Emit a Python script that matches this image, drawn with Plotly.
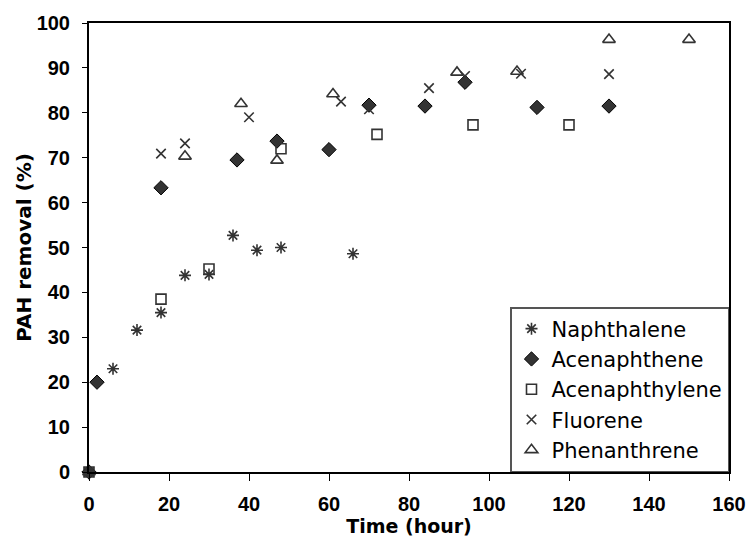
import plotly.graph_objects as go

# ---- data ----
naph_t = [0, 6, 12, 18, 24, 30, 36, 42, 48, 66]
naph = [0, 23.0, 31.6, 35.5, 43.8, 44.0, 52.7, 49.4, 50.0, 48.6]

acene_t = [0, 2, 18, 37, 47, 60, 70, 84, 94, 112, 130]
acene = [0, 20.0, 63.3, 69.5, 73.7, 71.8, 81.7, 81.5, 86.8, 81.2, 81.5]

acyl_t = [0, 18, 30, 48, 72, 96, 120]
acyl = [0, 38.5, 45.2, 72.0, 75.2, 77.3, 77.3]

fluor_t = [0, 18, 24, 40, 63, 70, 85, 94, 108, 130]
fluor = [0, 70.9, 73.2, 79.0, 82.5, 80.8, 85.5, 88.2, 88.7, 88.6]

phen_t = [0, 24, 38, 47, 61, 92, 107, 130, 150]
phen = [0, 70.3, 82.0, 69.4, 84.2, 89.0, 89.2, 96.3, 96.3]

x_ticks = [0, 20, 40, 60, 80, 100, 120, 140, 160]
y_ticks = [0, 10, 20, 30, 40, 50, 60, 70, 80, 90, 100]

DARK = "#333333"
FONT = "Liberation Sans, Arial, sans-serif"
WIDE = "DejaVu Sans, Verdana, sans-serif"

fig = go.Figure()
fig.add_trace(go.Scatter(x=naph_t, y=naph, mode="markers", name="Naphthalene",
                         marker=dict(symbol="asterisk-open", size=10, color=DARK,
                                     line=dict(color=DARK, width=1.6)),
                         cliponaxis=False))
fig.add_trace(go.Scatter(x=acene_t, y=acene, mode="markers", name="Acenaphthene",
                         marker=dict(symbol="diamond", size=11, color=DARK,
                                     line=dict(color="black", width=1)),
                         cliponaxis=False))
fig.add_trace(go.Scatter(x=acyl_t, y=acyl, mode="markers", name="Acenaphthylene",
                         marker=dict(symbol="square-open", size=10,
                                     color=DARK, line=dict(color=DARK, width=1.6)),
                         cliponaxis=False))
fig.add_trace(go.Scatter(x=fluor_t, y=fluor, mode="markers", name="Fluorene",
                         marker=dict(symbol="x-thin-open", size=9.5, color=DARK,
                                     line=dict(color=DARK, width=1.6)),
                         cliponaxis=False))
fig.add_trace(go.Scatter(x=phen_t, y=phen, mode="markers", name="Phenanthrene",
                         marker=dict(symbol="triangle-up-open", size=11,
                                     color=DARK, line=dict(color=DARK, width=1.6)),
                         cliponaxis=False))

fig.update_layout(
    width=750, height=538,
    margin=dict(l=89, r=21, t=23, b=66, autoexpand=False),
    paper_bgcolor="white", plot_bgcolor="white",
    font=dict(family=FONT, color="black"),
    showlegend=True,
    legend=dict(x=1, y=0, xanchor="right", yanchor="bottom",
                bgcolor="white", bordercolor="#555555", borderwidth=1.5,
                font=dict(size=21, family=WIDE, color="black"),
                itemwidth=30),
    xaxis=dict(range=[0, 160], tickvals=x_ticks, showgrid=False, zeroline=False,
               showline=True, linecolor="black", linewidth=2, mirror=True,
               ticks="outside", ticklen=7, tickwidth=1, tickcolor="black",
               ticklabelstandoff=6, automargin=False,
               tickfont=dict(size=20, family=FONT, weight="bold"),
               title=dict(text="Time (hour)", standoff=4,
                          font=dict(size=19, family=WIDE, weight="bold"))),
    yaxis=dict(range=[0, 100], tickvals=y_ticks, showgrid=False, zeroline=False,
               showline=True, linecolor="black", linewidth=2, mirror=True,
               ticks="outside", ticklen=5, tickwidth=1, tickcolor="black",
               ticklabelstandoff=8, automargin=False,
               tickfont=dict(size=20, family=FONT, weight="bold"),
               title=dict(text="PAH removal (%)", standoff=0,
                          font=dict(size=20, family=WIDE, weight="bold"))),
)

fig.write_html("out.html", config={"displayModeBar": False},
               post_script="document.body.style.margin='0';")
